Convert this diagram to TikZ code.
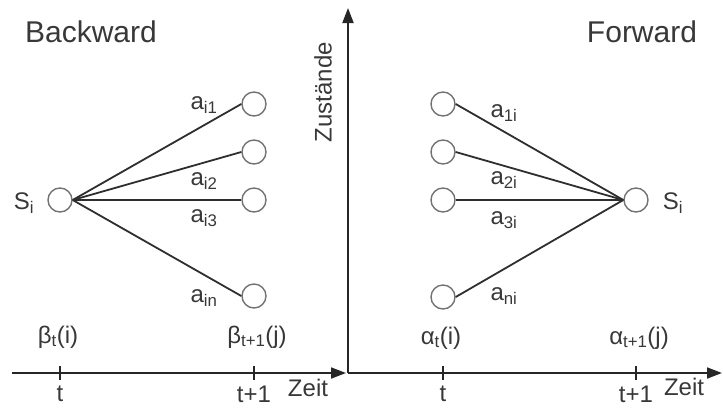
\documentclass[tikz,border=0pt]{standalone}
\usepackage{fontspec}
\setmainfont{Liberation Sans}
\usetikzlibrary{arrows.meta}
\begin{document}
\begin{tikzpicture}[x=1pt,y=-1pt,
  state/.style={circle,draw=black!55,line width=1.4pt,minimum size=24pt,inner sep=0pt,fill=white},
  trans/.style={draw=black!82,line width=1.8pt},
  axis/.style={draw=black!85,line width=1.8pt},
  axisarrow/.style={axis,-{Triangle[length=15pt,width=11pt]}},
  lbl/.style={text=black!78,font=\fontsize{24}{26}\selectfont,inner sep=0pt},
  elbl/.style={text=black!78,font=\fontsize{24}{26}\selectfont,inner sep=0pt},
  title/.style={text=black!78,font=\fontsize{30}{32}\selectfont,inner sep=0pt},
  tick/.style={draw=black!85,line width=1.5pt}]
\useasboundingbox (0,0) rectangle (723,408);
% titles
\node[title] (bw) at (91,32) {Backward};
\node[title] (fw) at (642,32) {Forward};
% axes
\coordinate (o) at (348,373);
\coordinate (ytop) at (348,8);
\coordinate (lstart) at (12,373);
\coordinate (lend) at (346,373);
\coordinate (rend) at (722,373);
\draw[axisarrow] (o) -- (ytop);
\draw[axisarrow] (lstart) -- (lend);
\draw[axisarrow] (o) -- (rend);
\node[lbl,rotate=90] (zu) at (323,92) {Zustände};
\node[lbl] (z1) at (308,388) {Zeit};
\node[lbl] (z2) at (684,387) {Zeit};
% ticks
\foreach \n/\x/\t in {t1/60/t, t2/254/t+1, t3/443/t, t4/636/t+1}{
  \coordinate (\n a) at (\x,366);
  \coordinate (\n b) at (\x,380);
  \draw[tick] (\n a) -- (\n b);
  \node[lbl] (\n l) at (\x,394) {\t};
}
% value labels
\node[lbl] (b1) at (58,337) {β\textsubscript{t}(i)};
\node[lbl] (b2) at (257,337) {β\textsubscript{t+1}(j)};
\node[lbl] (a1) at (441,338) {α\textsubscript{t}(i)};
\node[lbl] (a2) at (639,338) {α\textsubscript{t+1}(j)};
% backward states
\node[state] (s) at (60,200) {};
\node[lbl] (sl) at (24,203) {S\textsubscript{i}};
\node[state] (j1) at (254,104) {};
\node[state] (j2) at (254,152) {};
\node[state] (j3) at (254,200) {};
\node[state] (j4) at (254,296) {};
\foreach \j in {j1,j2,j3,j4}{\draw[trans] (s.east) -- (\j.west);}
\node[elbl] (e1) at (204,105) {a\textsubscript{i1}};
\node[elbl] (e2) at (204,181) {a\textsubscript{i2}};
\node[elbl] (e3) at (204,218) {a\textsubscript{i3}};
\node[elbl] (e4) at (204,298) {a\textsubscript{in}};
% forward states
\node[state] (r) at (636,200) {};
\node[lbl] (rl) at (673,203) {S\textsubscript{i}};
\node[state] (k1) at (443,104) {};
\node[state] (k2) at (443,152) {};
\node[state] (k3) at (443,200) {};
\node[state] (k4) at (443,297) {};
\foreach \k in {k1,k2,k3,k4}{\draw[trans] (\k.east) -- (r.west);}
\node[elbl] (f1) at (504,113) {a\textsubscript{1i}};
\node[elbl] (f2) at (504,180) {a\textsubscript{2i}};
\node[elbl] (f3) at (504,220) {a\textsubscript{3i}};
\node[elbl] (f4) at (504,296) {a\textsubscript{ni}};
\end{tikzpicture}
\end{document}
